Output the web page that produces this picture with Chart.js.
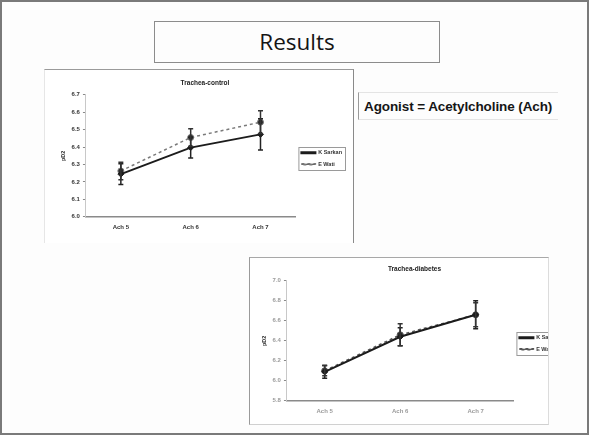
<!DOCTYPE html>
<html>
<head>
<meta charset="utf-8">
<script src="https://cdn.jsdelivr.net/npm/chart.js@4.4.1/dist/chart.umd.min.js"></script>
<style>
  html, body { margin: 0; padding: 0; background: #fff; }
  #slide { position: relative; width: 589px; height: 435px; box-sizing: border-box;
           border: 2px solid #7a7a7a; background: #fdfdfd; overflow: hidden; }
  #titleBox { position: absolute; left: 152px; top: 19px; width: 286px; height: 42px; box-sizing: border-box;
              border: 1.5px solid #8c8c8c; font-family: "Open Sans", sans-serif; font-size: 22.5px;
              color: #151515; text-align: center; line-height: 40px; }
  #agonist { position: absolute; left: 356px; top: 90px; width: 200px; height: 28px; box-sizing: border-box;
             border-left: 1.5px solid #9a9a9a; border-top: 1px solid #e4e4e4; border-bottom: 1px solid #e4e4e4;
             font-family: "Liberation Sans", Arial, sans-serif; font-size: 13.5px; font-weight: bold; color: #161616;
             padding-left: 5px; line-height: 27px; letter-spacing: -0.1px; white-space: nowrap; }
  .frame { position: absolute; box-sizing: border-box; background: #fff; }
  #frame1 { left: 42px; top: 67px; width: 310px; height: 174px;
            border-top: 1.5px solid #9a9a9a; border-right: 1.5px solid #8a8a8a; border-left: 1px solid #e6e6e6; }
  #frame2 { left: 247px; top: 255px; width: 300px; height: 168px;
            border-top: 1.5px solid #a8a8a8; border-left: 1.5px solid #9a9a9a; border-right: 1px solid #dcdcdc;
            border-bottom: 1px solid #d0d0d0; overflow: hidden; }
  canvas { display: block; }
</style>
</head>
<body>
<div id="slide">
  <div id="titleBox">Results</div>
  <div id="agonist">Agonist = Acetylcholine (Ach)</div>
  <div class="frame" id="frame1"><canvas id="c1" width="307" height="172"></canvas></div>
  <div class="frame" id="frame2"><canvas id="c2" width="320" height="166"></canvas></div>
</div>
<script>
// Concentrations of acetylcholine on the x axis
const doses = ["Ach 5", "Ach 6", "Ach 7"];

// Trachea, control group
const controlTitle = "Trachea-control";
const controlSeriesA = [6.245, 6.397, 6.473];
const controlErrA    = [0.06, 0.06, 0.09];
const controlSeriesB = [6.263, 6.455, 6.543];
const controlErrB    = [0.05, 0.05, 0.065];
const controlTicks   = { min: 6.0, max: 6.7, step: 0.1 };

// Trachea, diabetes group
const diabetesTitle = "Trachea-diabetes";
const diabetesSeriesA = [6.09, 6.44, 6.66];
const diabetesErrA    = [0.065, 0.09, 0.14];
const diabetesSeriesB = [6.10, 6.46, 6.66];
const diabetesErrB    = [0.05, 0.11, 0.12];
const diabetesTicks   = { min: 5.8, max: 7.0, step: 0.2 };

const seriesNames = ["K Sarkan", "E Wati"];

// Vertical error bars with small caps, placed through the y scale
const errorBarPlugin = {
  id: "errorBars",
  afterDatasetsDraw(chart) {
    const ctx = chart.ctx;
    const y = chart.scales.y;
    chart.data.datasets.forEach((ds, i) => {
      if (!ds.errorBars) return;
      const meta = chart.getDatasetMeta(i);
      meta.data.forEach((pt, j) => {
        const v = ds.data[j], e = ds.errorBars[j];
        const top = y.getPixelForValue(v + e);
        const bot = y.getPixelForValue(v - e);
        ctx.save();
        ctx.strokeStyle = ds.errorColor || "#222";
        ctx.lineWidth = 1.5;
        ctx.beginPath();
        ctx.moveTo(pt.x, top); ctx.lineTo(pt.x, bot);
        ctx.moveTo(pt.x - 2.5, top); ctx.lineTo(pt.x + 2.5, top);
        ctx.moveTo(pt.x - 2.5, bot); ctx.lineTo(pt.x + 2.5, bot);
        ctx.stroke();
        ctx.restore();
      });
    });
  }
};

// Thin frame around the legend
const legendFramePlugin = {
  id: "legendFrame",
  afterDraw(chart) {
    const lg = chart.legend;
    if (!lg || !lg.legendHitBoxes || !lg.legendHitBoxes.length) return;
    const boxes = lg.legendHitBoxes;
    const left = Math.min(...boxes.map(b => b.left)) - 3;
    const top = Math.min(...boxes.map(b => b.top)) - 3;
    const right = Math.max(...boxes.map(b => b.left + b.width)) + 3;
    const bottom = Math.max(...boxes.map(b => b.top + b.height)) + 3;
    const ctx = chart.ctx;
    ctx.save();
    ctx.strokeStyle = "#9a9a9a";
    ctx.lineWidth = 1;
    ctx.strokeRect(left + 0.5, top + 0.5, right - left, bottom - top);
    ctx.restore();
  }
};

function makeChart(id, title, a, ea, b, eb, t, opts) {
  return new Chart(document.getElementById(id), {
    type: "line",
    data: {
      labels: doses,
      datasets: [
        { label: seriesNames[0], data: a, errorBars: ea, borderColor: "#1c1c1c", backgroundColor: "#1c1c1c",
          borderWidth: 2, pointStyle: "rectRot", pointRadius: 3, pointBorderWidth: 1, tension: 0 },
        { label: seriesNames[1], data: b, errorBars: eb, errorColor: opts.errB, borderColor: opts.lineB,
          backgroundColor: "#2a2a2a", borderWidth: 1.5, borderDash: [3, 3], pointStyle: "circle",
          pointRadius: 3, pointBorderWidth: 1, tension: 0 }
      ]
    },
    options: {
      responsive: false,
      animation: false,
      devicePixelRatio: 1,
      layout: { padding: opts.padding },
      plugins: {
        title: { display: true, text: title, color: "#222", padding: { top: 0, bottom: opts.titleGap },
                 font: { family: "Liberation Sans", size: 6.5, weight: "bold" } },
        legend: {
          position: "right",
          labels: { usePointStyle: false, boxWidth: 14, boxHeight: 1, padding: 6, color: "#333",
                    font: { family: "Liberation Sans", size: 5.5, weight: "bold" } }
        },
        tooltip: { enabled: false }
      },
      scales: {
        x: {
          offset: true,
          grid: { display: false, drawTicks: false },
          border: { display: true, color: "#8a8a8a", width: 1.5 },
          ticks: { color: opts.tickColor, padding: 7, font: { family: "Liberation Sans", size: 6, weight: "bold" } }
        },
        y: {
          min: t.min, max: t.max,
          title: { display: true, text: "pD2", color: "#333", padding: 2,
                   font: { family: "Liberation Sans", size: 5.5, weight: "bold" } },
          grid: { drawOnChartArea: false, tickLength: 3, color: "#8a8a8a" },
          border: { display: true, color: "#c8c8c8", width: 1 },
          ticks: { stepSize: t.step, color: opts.tickColor, padding: 3,
                   callback: v => Number(v).toFixed(1),
                   font: { family: "Liberation Sans", size: 6, weight: "bold" } }
        }
      }
    },
    plugins: [errorBarPlugin, legendFramePlugin]
  });
}

makeChart("c1", controlTitle, controlSeriesA, controlErrA, controlSeriesB, controlErrB, controlTicks,
  { padding: { left: 13, right: 0, top: 9, bottom: 4 }, titleGap: 8, lineB: "#7a7a7a", errB: "#333",
    tickColor: "#333" });

makeChart("c2", diabetesTitle, diabetesSeriesA, diabetesErrA, diabetesSeriesB, diabetesErrB, diabetesTicks,
  { padding: { left: 9, right: 0, top: 7, bottom: 2 }, titleGap: 8, lineB: "#555", errB: "#333",
    tickColor: "#9a9a9a" });
</script>
</body>
</html>
